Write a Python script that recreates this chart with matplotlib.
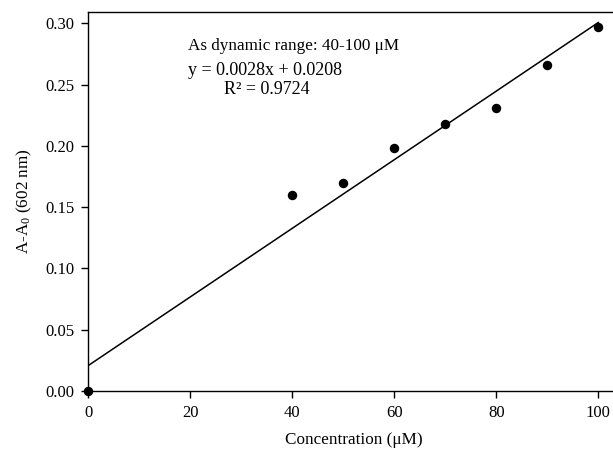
import matplotlib
matplotlib.use("Agg")
import matplotlib.pyplot as plt
import numpy as np

plt.rcParams['font.family'] = ['Liberation Serif', 'DejaVu Serif']
plt.rcParams['mathtext.fontset'] = 'custom'
plt.rcParams['mathtext.rm'] = 'Liberation Serif'
plt.rcParams['mathtext.it'] = 'Liberation Serif:italic'

conc = [0, 40, 50, 60, 70, 80, 90, 100]
absorb = [0.000, 0.160, 0.170, 0.198, 0.218, 0.231, 0.266, 0.297]
slope = 0.0028
intercept = 0.0208
fit_x = [0, 100]
xticks = [0, 20, 40, 60, 80, 100]
yticks = [0.00, 0.05, 0.10, 0.15, 0.20, 0.25, 0.30]

W, H = 613, 459
fig = plt.figure(figsize=(W / 100, H / 100), dpi=100)
left = 88.3 / W
bottom = (H - 391) / H
top = 11.7 / H
xmax = 104
px_per_unit = 5.1
ax = fig.add_axes([left, bottom, xmax * px_per_unit / W, 1 - top - bottom])

fx = np.array(fit_x, dtype=float)
ax.plot(fx, slope * fx + intercept, color='black', lw=1.1)
ax.plot(conc, absorb, 'o', color='black', ms=5.8, clip_on=False, zorder=5)

ax.set_xlim(0, xmax)
ax.set_ylim(0, 0.3096)
ax.set_xticks(xticks)
ax.set_yticks(yticks)
ax.set_yticklabels([f"{v:.2f}" for v in yticks])
ax.spines['right'].set_visible(False)
for s in ax.spines.values():
    s.set_linewidth(1.0)
ax.tick_params(direction='out', length=5, width=1, labelsize=12, pad=5)

ax.set_xlabel('Concentration (μM)', fontsize=12.3, labelpad=8)
ax.set_ylabel('A-A$_0$ (602 nm)', fontsize=12.3, labelpad=8)

fig.text(188 / W, 1 - 50 / H, 'As dynamic range: 40-100 μM', fontsize=12.3,
         ha='left', va='baseline')
fig.text(187.5 / W, 1 - 75 / H, 'y = 0.0028x + 0.0208', fontsize=13,
         ha='left', va='baseline')
fig.text(224 / W, 1 - 94 / H, 'R² = 0.9724', fontsize=13,
         ha='left', va='baseline')

fig.savefig('out.png', dpi=100)
